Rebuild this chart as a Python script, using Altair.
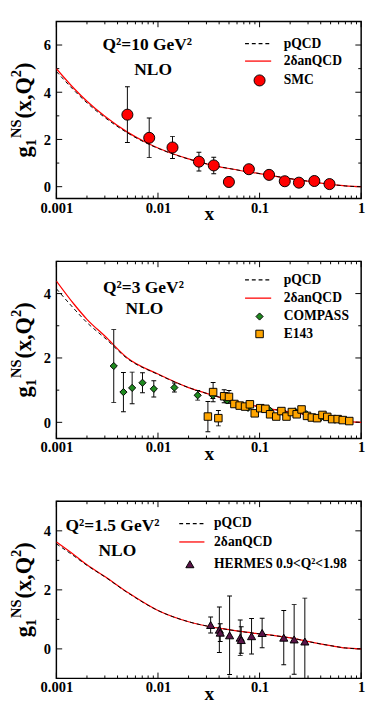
import altair as alt
import pandas as pd

FONT = "Liberation Serif"
W, H = 315, 183

# ---------------- data ----------------
# Panel 1: Q^2 = 10 GeV^2
p1_curve_x = [0.001, 0.0015, 0.002, 0.003, 0.005, 0.008, 0.012, 0.02, 0.03, 0.05, 0.08, 0.12, 0.2, 0.3, 0.5, 0.7, 1.0]
p1_red = [5.0, 4.15, 3.62, 2.98, 2.31, 1.83, 1.50, 1.18, 0.97, 0.77, 0.62, 0.50, 0.34, 0.23, 0.10, 0.03, 0.0]
p1_black = [4.88, 4.07, 3.55, 2.93, 2.28, 1.81, 1.49, 1.17, 0.97, 0.77, 0.62, 0.50, 0.34, 0.23, 0.10, 0.03, 0.0]
smc_x = [0.005, 0.0082, 0.0139, 0.0253, 0.0354, 0.0499, 0.0785, 0.124, 0.177, 0.244, 0.346, 0.488]
smc_y = [3.05, 2.07, 1.66, 1.06, 0.90, 0.20, 0.74, 0.50, 0.23, 0.17, 0.24, 0.11]
smc_err = [1.18, 0.84, 0.47, 0.40, 0.35, 0.20, 0.08, 0.07, 0.06, 0.05, 0.05, 0.04]

# Panel 2: Q^2 = 3 GeV^2
p2_curve_x = [0.001, 0.0015, 0.002, 0.003, 0.005, 0.01, 0.02, 0.03, 0.05, 0.1, 0.2, 0.3, 0.5, 0.7, 1.0]
p2_red = [4.39, 3.66, 3.20, 2.68, 2.00, 1.50, 1.08, 0.90, 0.70, 0.48, 0.32, 0.23, 0.10, 0.03, 0.0]
p2_black = [4.15, 3.52, 3.10, 2.62, 1.98, 1.49, 1.08, 0.90, 0.70, 0.48, 0.32, 0.23, 0.10, 0.03, 0.0]
compass_x = [0.00367, 0.00457, 0.00557, 0.00704, 0.0091, 0.0145, 0.0246, 0.0347, 0.048, 0.077, 0.124, 0.17, 0.224, 0.29, 0.40]
compass_y = [1.75, 0.94, 1.07, 1.23, 1.04, 1.08, 0.84, 0.84, 0.68, 0.45, 0.39, 0.32, 0.34, 0.25, 0.15]
compass_err = [1.13, 0.61, 0.49, 0.31, 0.25, 0.14, 0.15, 0.10, 0.08, 0.06, 0.05, 0.05, 0.05, 0.04, 0.03]
e143_x = [0.031, 0.0349, 0.0393, 0.0448, 0.050, 0.0565, 0.0637, 0.072, 0.0803, 0.0896, 0.1016, 0.114, 0.127, 0.146,
          0.164, 0.184, 0.208, 0.232, 0.259, 0.293, 0.327, 0.368, 0.416, 0.464, 0.518, 0.587, 0.659, 0.764]
e143_y = [0.18, 0.94, 0.13, 0.81, 0.79, 0.57, 0.52, 0.49, 0.56, 0.28, 0.44, 0.42, 0.25, 0.18,
          0.35, 0.18, 0.32, 0.25, 0.40, 0.20, 0.15, 0.13, 0.23, 0.17, 0.10, 0.10, 0.07, 0.04]
e143_err = [0.47, 0.30, 0.24, 0.20, 0.20, 0.08, 0.07, 0.07, 0.06, 0.06, 0.06, 0.05, 0.05, 0.05,
            0.05, 0.05, 0.05, 0.05, 0.05, 0.04, 0.04, 0.04, 0.04, 0.04, 0.03, 0.03, 0.03, 0.03]

# Panel 3: Q^2 = 1.5 GeV^2
p3_curve_x = [0.001, 0.0015, 0.002, 0.003, 0.005, 0.01, 0.02, 0.033, 0.05, 0.065, 0.1, 0.17, 0.22, 0.28, 0.5, 0.7, 1.0]
p3_red = [3.62, 3.18, 2.85, 2.45, 1.92, 1.30, 0.92, 0.75, 0.65, 0.59, 0.51, 0.41, 0.35, 0.27, 0.11, 0.03, 0.0]
p3_black = [3.56, 3.14, 2.83, 2.44, 1.91, 1.30, 0.92, 0.75, 0.65, 0.59, 0.51, 0.41, 0.35, 0.27, 0.11, 0.03, 0.0]
hermes_x = [0.033, 0.0402, 0.041, 0.0507, 0.0645, 0.066, 0.0834, 0.106, 0.173, 0.219, 0.279]
hermes_y = [0.81, 0.65, 0.55, 0.46, 0.38, 0.30, 0.43, 0.54, 0.38, 0.32, 0.25]
hermes_err = [0.27, 0.77, 0.30, 1.33, 0.60, 0.45, 0.60, 0.50, 0.92, 1.18, 1.47]

x_labels = [0.001, 0.01, 0.1, 1]
x_minor = [k * 10.0 ** d for d in (-3, -2, -1) for k in range(2, 10)]

ONE = pd.DataFrame({"a": [0]})


class Panel:
    def __init__(self, ydom, ylabels):
        self.xs = alt.Scale(type="log", domain=[0.001, 1], nice=False)
        self.ys = alt.Scale(domain=ydom, nice=False, zero=False)
        self.xa = alt.Axis(values=x_labels, format="~g", title="x", ticks=False, domain=False, grid=False,
                           labelFlush=False, labelPadding=2, titlePadding=-11, labelFontSize=15,
                           titleFontSize=20)
        self.ya = alt.Axis(values=ylabels, format="d", title=None, ticks=False, domain=False, grid=False,
                           labelPadding=6, labelFontSize=15)

    def X(self, f):
        return alt.X(f, scale=self.xs, axis=self.xa)

    def Y(self, f):
        return alt.Y(f, scale=self.ys, axis=self.ya)


def tick_layers(P, ymaj, ymin):
    out = []
    for vals, ln in ((x_labels, 6), (x_minor, 3)):
        d = pd.DataFrame({"t": vals})
        base = alt.Chart(d).mark_rule(color="black", strokeWidth=1)
        out.append(base.encode(x=P.X("t:Q"), y=alt.value(H), y2=alt.value(H - ln)))
        out.append(base.encode(x=P.X("t:Q"), y=alt.value(0), y2=alt.value(ln)))
    for vals, ln in ((ymaj, 6), (ymin, 3)):
        d = pd.DataFrame({"t": vals})
        base = alt.Chart(d).mark_rule(color="black", strokeWidth=1)
        out.append(base.encode(y=P.Y("t:Q"), x=alt.value(0), x2=alt.value(ln)))
        out.append(base.encode(y=P.Y("t:Q"), x=alt.value(W), x2=alt.value(W - ln)))
    return out


def ytitle_layers(c):
    F, f = 23, 15
    bx = -26
    wg, w1, wns, wpar, w2, wc = 0.5 * F, 0.5 * f, 1.278 * f, 1.861 * F, 0.5 * f, 0.333 * F
    o1 = wg
    ons = o1 + w1 + 1
    opar = ons + wns + 1
    o2 = opar + wpar
    oc = o2 + w2
    total = oc + wc
    parts = [("g", F, 0, 0.0), ("1", f, 5, o1), ("NS", f, -11, ons),
             ("(x,Q", F, 0, opar), ("2", f, -10.5, o2), (")", F, 0, oc)]
    out = []
    for txt, fs, dxo, off in parts:
        out.append(alt.Chart(ONE).mark_text(text=txt, font=FONT, fontWeight="bold", fontSize=fs, angle=270,
                                           align="left", baseline="alphabetic", color="black")
                   .encode(x=alt.value(bx + dxo), y=alt.value(c + total / 2 - off)))
    return out


def text_layer(txt, x, y, size, align="center"):
    return alt.Chart(ONE).mark_text(text=txt, font=FONT, fontWeight="bold", fontSize=size, align=align,
                                    baseline="middle", color="black").encode(x=alt.value(x), y=alt.value(y))


def legend_line(x1, x2, y, color, dash=None):
    kw = dict(color=color, strokeWidth=1.3)
    if dash:
        kw["strokeDash"] = dash
    return alt.Chart(ONE).mark_rule(**kw).encode(x=alt.value(x1), x2=alt.value(x2), y=alt.value(y))


def legend_symbol(x, y, shape, fill, size):
    return alt.Chart(ONE).mark_point(shape=shape, fill=fill, stroke="black", strokeWidth=1, size=size,
                                     opacity=1, fillOpacity=1, filled=True).encode(x=alt.value(x), y=alt.value(y))


def scatter_layers(P, xs, ys_, errs, shape, fill, size):
    d = pd.DataFrame({"x": xs, "y": ys_, "lo": [a - e for a, e in zip(ys_, errs)],
                      "hi": [a + e for a, e in zip(ys_, errs)]})
    bar = alt.Chart(d).mark_rule(color="black", strokeWidth=1, clip=True).encode(
        x=P.X("x:Q"), y=P.Y("lo:Q"), y2="hi:Q")
    cap_lo = alt.Chart(d).mark_tick(color="black", orient="horizontal", size=5, thickness=1, clip=True,
                                    opacity=1).encode(x=P.X("x:Q"), y=P.Y("lo:Q"))
    cap_hi = alt.Chart(d).mark_tick(color="black", orient="horizontal", size=5, thickness=1, clip=True,
                                    opacity=1).encode(x=P.X("x:Q"), y=P.Y("hi:Q"))
    pts = alt.Chart(d).mark_point(shape=shape, fill=fill, stroke="black", strokeWidth=1, size=size,
                                  opacity=1, fillOpacity=1, filled=True, clip=True).encode(
        x=P.X("x:Q"), y=P.Y("y:Q"))
    return [bar, cap_lo, cap_hi], [pts]


def curve_layers(P, cx, red, black):
    dr = pd.DataFrame({"x": cx, "y": red})
    db = pd.DataFrame({"x": cx, "y": black})
    blk = alt.Chart(db).mark_line(color="black", strokeWidth=1, strokeDash=[4, 3], interpolate="monotone",
                                  clip=True).encode(x=P.X("x:Q"), y=P.Y("y:Q"))
    rd = alt.Chart(dr).mark_line(color="#ff0000", strokeWidth=1.3, interpolate="monotone", clip=True).encode(
        x=P.X("x:Q"), y=P.Y("y:Q"))
    return [rd, blk]


# ---------------- panel 1 ----------------
P1 = Panel([-0.5, 7], [0, 2, 4, 6])
b1, m1 = scatter_layers(P1, smc_x, smc_y, smc_err, "circle", "#ff0000", 130)
panel1 = alt.layer(
    *tick_layers(P1, [0, 2, 4, 6], [1, 3, 5]), *curve_layers(P1, p1_curve_x, p1_red, p1_black), *b1, *m1,
    text_layer("Q²=10 GeV²", 94, 25, 18), text_layer("NLO", 100, 50, 18),
    legend_line(195, 222, 23, "black", [4, 3]), text_layer("pQCD", 235, 23, 14, "left"),
    legend_line(195, 222, 41, "#ff0000"), text_layer("2δanQCD", 235, 41, 14, "left"),
    legend_symbol(210, 61, "circle", "#ff0000", 130), text_layer("SMC", 235, 61, 14, "left"),
    *ytitle_layers(H / 2),
).properties(width=W, height=H)

# ---------------- panel 2 ----------------
P2 = Panel([-0.5, 5], [0, 2, 4])
b2a, m2a = scatter_layers(P2, compass_x, compass_y, compass_err, "diamond", "#1f8a1f", 55)
b2b, m2b = scatter_layers(P2, e143_x, e143_y, e143_err, "square", "#ffa500", 60)
panel2 = alt.layer(
    *tick_layers(P2, [0, 2, 4], [1, 3, 5]), *curve_layers(P2, p2_curve_x, p2_red, p2_black),
    *b2a, *b2b, *m2a, *m2b,
    text_layer("Q²=3 GeV²", 90, 28, 18), text_layer("NLO", 91, 49, 18),
    legend_line(195, 222, 19, "black", [4, 3]), text_layer("pQCD", 235, 19, 14, "left"),
    legend_line(195, 222, 38, "#ff0000"), text_layer("2δanQCD", 235, 38, 14, "left"),
    legend_symbol(210, 57, "diamond", "#1f8a1f", 55), text_layer("COMPASS", 235, 57, 14, "left"),
    legend_symbol(210, 75, "square", "#ffa500", 60), text_layer("E143", 235, 75, 14, "left"),
    *ytitle_layers(H / 2),
).properties(width=W, height=H)

# ---------------- panel 3 ----------------
P3 = Panel([-1, 5], [0, 2, 4])
b3, m3 = scatter_layers(P3, hermes_x, hermes_y, hermes_err, "triangle-up", "#5a1448", 70)
panel3 = alt.layer(
    *tick_layers(P3, [0, 2, 4], [-1, 1, 3, 5]), *curve_layers(P3, p3_curve_x, p3_red, p3_black), *b3, *m3,
    text_layer("Q²=1.5 GeV²", 58, 26, 18), text_layer("NLO", 63, 52, 18),
    legend_line(127, 153, 23, "black", [4, 3]), text_layer("pQCD", 163, 23, 14, "left"),
    legend_line(127, 153, 42, "#ff0000"), text_layer("2δanQCD", 163, 42, 14, "left"),
    legend_symbol(138, 65, "triangle-up", "#5a1448", 70), text_layer("HERMES 0.9<Q²<1.98", 163, 65, 14, "left"),
    *ytitle_layers(H / 2),
).properties(width=W, height=H)

chart = alt.vconcat(panel1, panel2, panel3, spacing=36).properties(
    padding={"left": 0, "top": 0, "right": 0, "bottom": 0}
).configure_view(stroke="black", strokeWidth=1.5).configure_axis(
    labelFont=FONT, titleFont=FONT, labelFontWeight="bold", titleFontWeight="bold",
    labelColor="black", titleColor="black"
)

chart.save("out.html", embed_options={"renderer": "svg", "actions": False})
